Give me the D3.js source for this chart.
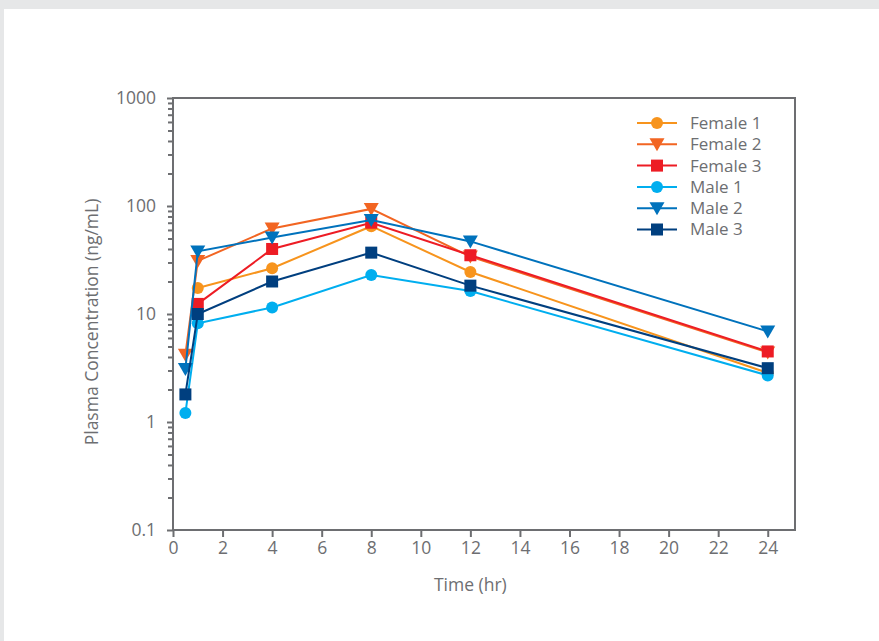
<!DOCTYPE html>
<html>
<head>
<meta charset="utf-8">
<script src="https://cdn.jsdelivr.net/npm/d3@7"></script>
<style>
  html, body { margin: 0; padding: 0; background: #e6e7e8; }
  svg { display: block; }
</style>
</head>
<body>
<script>
const times = [0.5, 1, 4, 8, 12, 24];
const seriesNames = ['Female 1', 'Female 2', 'Female 3', 'Male 1', 'Male 2', 'Male 3'];
const female1 = [null, 17.4, 26.5, 65, 24.5, 2.85];
const female2 = [4.2, 31, 62, 94, 34, 4.4];
const female3 = [null, 12.4, 40, 70, 35, 4.5];
const male1 = [1.21, 8.2, 11.5, 23, 16.3, 2.7];
const male2 = [3.1, 38, 51, 74, 47, 6.9];
const male3 = [1.8, 10, 20, 37, 18.3, 3.15];
const xTicks = [0, 2, 4, 6, 8, 10, 12, 14, 16, 18, 20, 22, 24];
const yTicks = [0.1, 1, 10, 100, 1000];

const colors = ['#f7941d', '#f26522', '#ed1c24', '#00aeef', '#0072bc', '#003f7f'];
const shapes = ['circle', 'triangle', 'square', 'circle', 'triangle', 'square'];
const values = [female1, female2, female3, male1, male2, male3];

const width = 879;
const height = 641;
const grey = '#6d6e71';
const font = '"Open Sans", sans-serif';

const svg = d3.select('body').append('svg')
  .attr('width', width)
  .attr('height', height);

// white panel over grey page
svg.append('rect')
  .attr('x', 4).attr('y', 9)
  .attr('width', width - 4).attr('height', height - 9)
  .attr('fill', 'white');

const x = d3.scaleLinear().domain([0, 25.1]).range([173, 795]);
const y = d3.scaleLog().domain([0.1, 1000]).range([530, 98]);

// minor log ticks
const minor = [];
for (let p = -1; p < 3; p++) {
  for (let m = 2; m <= 9; m++) minor.push(m * Math.pow(10, p));
}

svg.append('g')
  .attr('transform', `translate(${x(0)},0)`)
  .call(d3.axisLeft(y).tickValues(yTicks).tickFormat(d => d3.format('')(d)).tickSize(6).tickPadding(11));

svg.append('g')
  .attr('transform', `translate(${x(0)},0)`)
  .call(d3.axisLeft(y).tickValues(minor).tickFormat('').tickSize(5))
  .call(g => g.select('.domain').remove());

svg.append('g')
  .attr('transform', `translate(0,${y(0.1)})`)
  .call(d3.axisBottom(x).tickValues(xTicks).tickSize(7).tickPadding(5));

svg.selectAll('.tick line').attr('stroke', grey).attr('stroke-width', 2);
svg.selectAll('.domain').remove();
svg.selectAll('.tick text')
  .attr('fill', grey)
  .style('font-family', font)
  .style('font-size', '17.5px');

// frame
svg.append('rect')
  .attr('x', x(0)).attr('y', y(1000))
  .attr('width', x(25.1) - x(0))
  .attr('height', y(0.1) - y(1000))
  .attr('fill', 'none')
  .attr('stroke', grey)
  .attr('stroke-width', 2);

function marker(sel, shape, color) {
  if (shape === 'circle') {
    sel.append('circle').attr('r', 6).attr('fill', color);
  } else if (shape === 'square') {
    sel.append('rect').attr('x', -6).attr('y', -6).attr('width', 12).attr('height', 12).attr('fill', color);
  } else {
    sel.append('path').attr('d', 'M-7.5,-6L7.5,-6L0,7Z').attr('fill', color);
  }
}

const line = d3.line()
  .x(d => x(d.t))
  .y(d => y(d.v));

values.forEach((vals, i) => {
  const pts = times.map((t, j) => ({ t, v: vals[j] })).filter(d => d.v != null);
  const g = svg.append('g');
  g.append('path')
    .datum(pts)
    .attr('d', line)
    .attr('fill', 'none')
    .attr('stroke', colors[i])
    .attr('stroke-width', 2);
  g.selectAll('g.pt')
    .data(pts)
    .join('g')
      .attr('class', 'pt')
      .attr('transform', d => `translate(${x(d.t)},${y(d.v)})`)
      .each(function () { marker(d3.select(this), shapes[i], colors[i]); });
});

// legend
const legend = svg.append('g');
seriesNames.forEach((name, i) => {
  const ly = 123 + i * 21.3;
  const row = legend.append('g').attr('transform', `translate(637,${ly})`);
  row.append('line')
    .attr('x1', 0).attr('x2', 40)
    .attr('stroke', colors[i]).attr('stroke-width', 2);
  marker(row.append('g').attr('transform', 'translate(20,0)'), shapes[i], colors[i]);
  row.append('text')
    .attr('x', 53).attr('dy', '0.35em')
    .attr('fill', grey)
    .style('font-family', font)
    .style('font-size', '17px')
    .text(name);
});

// axis titles
svg.append('text')
  .attr('x', x(12)).attr('y', 591)
  .attr('text-anchor', 'middle')
  .attr('fill', grey)
  .style('font-family', font)
  .style('font-size', '17.5px')
  .text('Time (hr)');

svg.append('text')
  .attr('transform', `translate(98,${y(10) + 8}) rotate(-90)`)
  .attr('text-anchor', 'middle')
  .attr('fill', grey)
  .style('font-family', font)
  .style('font-size', '17.5px')
  .text('Plasma Concentration (ng/mL)');
</script>
</body>
</html>
